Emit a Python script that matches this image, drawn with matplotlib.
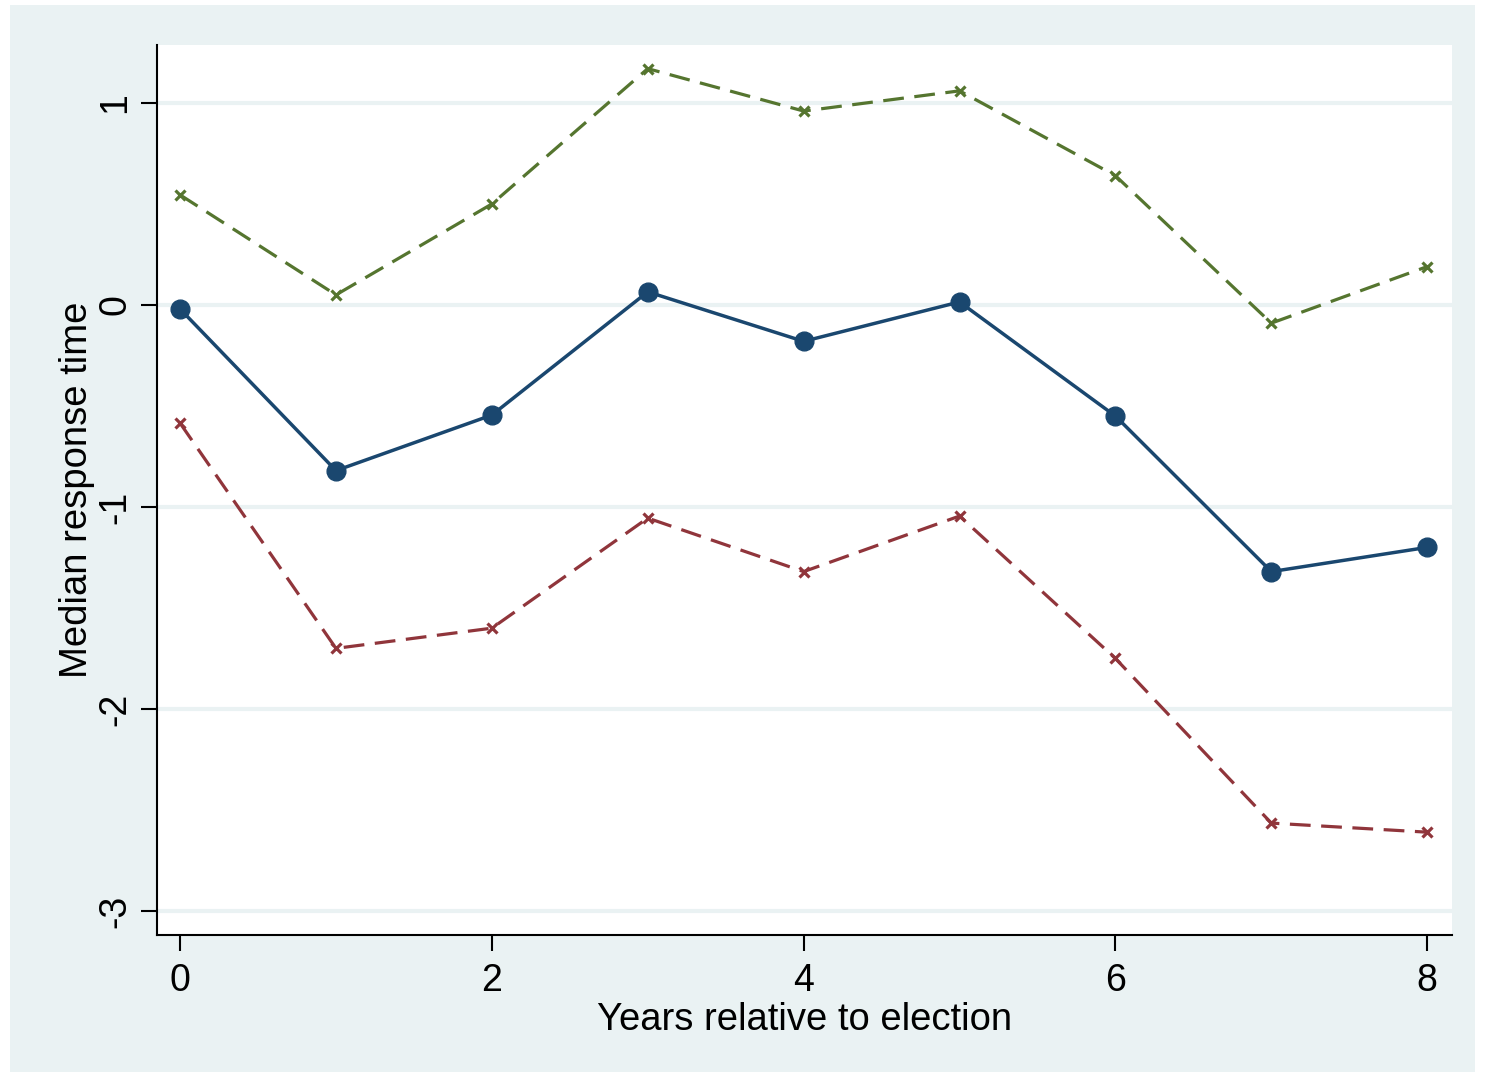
import matplotlib
matplotlib.use("Agg")
import matplotlib.pyplot as plt
from matplotlib.patches import Rectangle

years = [0, 1, 2, 3, 4, 5, 6, 7, 8]
estimate = [-0.02, -0.82, -0.545, 0.065, -0.18, 0.015, -0.55, -1.32, -1.20]
upper = [0.545, 0.05, 0.50, 1.17, 0.96, 1.06, 0.64, -0.09, 0.19]
lower = [-0.585, -1.70, -1.60, -1.055, -1.32, -1.045, -1.75, -2.565, -2.61]
xticks = [0, 2, 4, 6, 8]
yticks = [-3, -2, -1, 0, 1]

plt.rcParams['font.family'] = ['Liberation Sans', 'DejaVu Sans']
W, H = 1485, 1077
fig = plt.figure(figsize=(W / 100, H / 100), dpi=100)
fig.patch.set_facecolor('white')
bg = '#eaf2f3'
fig.patches.append(Rectangle((10 / W, 5 / H), (1475 - 10) / W, (1072 - 5) / H,
                             transform=fig.transFigure, facecolor=bg, edgecolor='none', zorder=-10))

ax = fig.add_axes([157 / W, 1 - 935 / H, (1452 - 157) / W, (935 - 45) / H])
ax.set_zorder(1)
ax.set_facecolor('white')

ax.plot(years, upper, color='#55752f', ls=(0, (6.5, 3.3)), lw=2.3, marker='x', ms=7, mew=2.3, zorder=3)
ax.plot(years, lower, color='#90353b', ls=(0, (6.5, 3.3)), lw=2.3, marker='x', ms=7, mew=2.3, zorder=3)
ax.plot(years, estimate, color='#1a476f', ls='-', lw=2.5, marker='o', ms=13.5, zorder=4)

ax.set_xlim(-0.148, 8.159)
ax.set_ylim(-3.119, 1.287)
ax.set_xticks(xticks)
ax.set_yticks(yticks)
ax.set_yticklabels([str(v) for v in yticks], rotation=90, va='center')
ax.tick_params(axis='both', labelsize=27, length=11.5, width=1.5, color='black')
ax.tick_params(axis='y', pad=5.5)
ax.tick_params(axis='x', pad=8.5)

for y in yticks:
    ax.axhline(y, color=bg, lw=3, zorder=1)

for s in ['top', 'right']:
    ax.spines[s].set_visible(False)
for s in ['left', 'bottom']:
    ax.spines[s].set_linewidth(1.5)

ax.set_xlabel('Years relative to election', fontsize=27.5, labelpad=2)
ax.set_ylabel('Median response time', fontsize=27.5, labelpad=1.5)

fig.savefig('out.png', dpi=100, facecolor=fig.get_facecolor())
